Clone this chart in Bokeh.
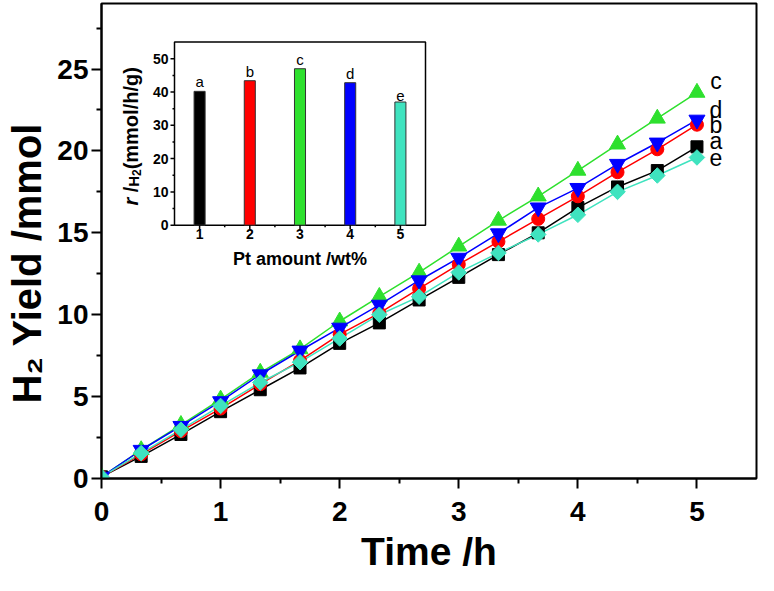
import math
from bokeh.plotting import figure
from bokeh.models import Range1d, FixedTicker, Label, ColumnDataSource
from bokeh.core.properties import value
from bokeh.embed import file_html
from bokeh.resources import INLINE

# ---------------- data ----------------
times = [0, 0.333, 0.667, 1.0, 1.333, 1.667, 2.0, 2.333, 2.667, 3.0, 3.333, 3.667, 4.0, 4.333, 4.667, 5.0]
yield_a = [0.1, 1.35, 2.69, 4.08, 5.42, 6.75, 8.25, 9.5, 10.9, 12.28, 13.67, 15.0, 16.54, 17.8, 18.8, 20.25]
yield_b = [0.1, 1.48, 2.89, 4.27, 5.76, 7.2, 8.8, 10.1, 11.59, 13.07, 14.46, 15.85, 17.23, 18.7, 20.1, 21.6]
yield_c = [0.1, 1.74, 3.28, 4.83, 6.47, 7.9, 9.6, 11.1, 12.58, 14.17, 15.75, 17.23, 18.8, 20.4, 21.98, 23.56]
yield_d = [0.1, 1.74, 3.2, 4.71, 6.35, 7.8, 9.2, 10.6, 12.09, 13.47, 14.96, 16.54, 17.73, 19.2, 20.5, 21.9]
yield_e = [0.1, 1.55, 2.98, 4.43, 5.86, 7.1, 8.55, 10.0, 11.1, 12.58, 13.77, 14.9, 16.1, 17.5, 18.5, 19.6]
series_names = ["a", "b", "c", "d", "e"]

pt_amount = [1, 2, 3, 4, 5]
h2_rate = [40.2, 43.4, 47.0, 42.8, 37.0]

x_ticks = [0, 1, 2, 3, 4, 5]
x_minor = [0.5, 1.5, 2.5, 3.5, 4.5]
y_ticks = [0, 5, 10, 15, 20, 25]
y_minor = [2.5, 7.5, 12.5, 17.5, 22.5, 27.5]
inset_x_minor = [1.5, 2.5, 3.5, 4.5]
inset_y_ticks = [0, 10, 20, 30, 40, 50]
inset_y_minor = [5, 15, 25, 35, 45]

x_title = "Time /h"
y_title = "H\u2082 Yield /mmol"

# ---------------- styles / layout ----------------
colors = ["#000000", "#FF0000", "#2EE02E", "#0000FF", "#3FE3BF"]
markers = ["square", "circle", "triangle", "inverted_triangle", "square"]
msizes = [12, 13, 16, 16, 11]
mangles = [0, 0, 0, 0, math.pi / 4]
end_label_dy_px = [6, 0, 12, 10, 0]   # lift of end labels above last marker (px)
END_LABEL_DX_PX = 19

FONT = "'Liberation Sans', Arial, sans-serif"

W, H = 758, 575
FL, FR, FT, FB = 101, 756, 3, 483          # frame in picture px
X_MIN, X_MAX, Y_MIN, Y_MAX = 0, 5.5, 0, 29
IL, IR, IT, IB = 174, 425, 42, 227          # inset frame in picture px
IX0, IX1, IY0, IY1 = 0.5, 5.5, 0, 55

def mx(px):
    return X_MIN + (px - FL) * (X_MAX - X_MIN) / (FR - FL)

def my(py):
    return Y_MIN + (FB - py) * (Y_MAX - Y_MIN) / (FB - FT)

ixs = (IX1 - IX0) / (IR - IL)
iys = (IY1 - IY0) / (IB - IT)
ix_range = Range1d(IX0 - (IL - FL) * ixs, IX1 + (FR - IR) * ixs)
iy_range = Range1d(IY0 - (FB - IB) * iys, IY1 + (IT - FT) * iys)

p = figure(width=W, height=H, output_backend="svg", toolbar_location=None,
           x_range=Range1d(X_MIN, X_MAX), y_range=Range1d(Y_MIN, Y_MAX),
           min_border_left=FL, min_border_right=W - FR,
           min_border_top=FT, min_border_bottom=H - FB)
p.extra_x_ranges = {"ix": ix_range}
p.extra_y_ranges = {"iy": iy_range}
p.grid.visible = False
p.outline_line_color = "black"
p.outline_line_width = 2
p.background_fill_color = "white"
p.border_fill_color = "white"

p.xaxis.ticker = FixedTicker(ticks=x_ticks, minor_ticks=x_minor)
p.yaxis.ticker = FixedTicker(ticks=y_ticks, minor_ticks=y_minor)
for ax in p.axis:
    ax.axis_line_width = 2
    ax.axis_line_color = "black"
    ax.major_tick_line_width = 2
    ax.minor_tick_line_width = 2
    ax.major_tick_in = 0
    ax.major_tick_out = 10
    ax.minor_tick_in = 0
    ax.minor_tick_out = 5
    ax.major_label_text_font = FONT
    ax.major_label_text_font_style = "bold"
    ax.major_label_text_font_size = "28px"
    ax.major_label_text_color = "black"
    ax.axis_label_text_font = FONT
    ax.axis_label_text_font_style = "bold"
    ax.axis_label_text_color = "black"
p.xaxis.major_label_standoff = 13
p.yaxis.major_label_standoff = 3
p.xaxis.axis_label = x_title
p.xaxis.axis_label_text_font_size = "39px"
p.xaxis.axis_label_standoff = 6
p.yaxis.axis_label = y_title + "\u00a0\u00a0\u00a0\u00a0"
p.yaxis.axis_label_text_font_size = "40px"
p.yaxis.axis_label_standoff = 5

# ---------------- main series ----------------
all_series = [yield_a, yield_b, yield_c, yield_d, yield_e]
for ys, c in zip(all_series, colors):
    p.line(times, ys, line_color=c, line_width=1.5)
for ys, c, m, s, a in zip(all_series, colors, markers, msizes, mangles):
    p.scatter(times, ys, marker=m, size=s, angle=a, fill_color=c, line_color=c)

px_per_y = (FB - FT) / (Y_MAX - Y_MIN)
px_per_x = (FR - FL) / (X_MAX - X_MIN)
end_src = ColumnDataSource(dict(
    x=[times[-1] + END_LABEL_DX_PX / px_per_x] * len(all_series),
    y=[ys[-1] + d / px_per_y for ys, d in zip(all_series, end_label_dy_px)],
    t=series_names))
p.text(x="x", y="y", text="t", source=end_src, text_align="center",
       text_baseline="middle", text_font=value(FONT), text_font_size="23px",
       text_color="black")

# ---------------- inset (bar chart) ----------------
R = dict(x_range_name="ix", y_range_name="iy")
p.quad(left=IX0, right=IX1, bottom=IY0, top=IY1, fill_color="white",
       line_color="black", line_width=1.5, **R)
p.vbar(x=pt_amount, top=h2_rate, bottom=0, width=0.22, fill_color=colors,
       line_color="#333333", line_width=1, **R)
# ticks
p.ray(x=pt_amount, y=[IY0] * len(pt_amount), length=4, length_units="screen",
      angle=-math.pi / 2, line_color="black", line_width=1.5, **R)
p.ray(x=inset_x_minor, y=[IY0] * len(inset_x_minor), length=2, length_units="screen",
      angle=-math.pi / 2, line_color="black", line_width=1.5, **R)
p.ray(x=[IX0] * len(inset_y_ticks), y=inset_y_ticks, length=4, length_units="screen",
      angle=math.pi, line_color="black", line_width=1.5, **R)
p.ray(x=[IX0] * len(inset_y_minor), y=inset_y_minor, length=2, length_units="screen",
      angle=math.pi, line_color="black", line_width=1.5, **R)
# tick labels
p.text(x=pt_amount, y=[IY0] * len(pt_amount), text=[str(v) for v in pt_amount],
       y_offset=4, text_align="center", text_baseline="top",
       text_font=value(FONT), text_font_style="bold", text_font_size="14px", **R)
p.text(x=[IX0] * len(inset_y_ticks), y=inset_y_ticks, text=[str(v) for v in inset_y_ticks],
       x_offset=-6, text_align="right", text_baseline="middle",
       text_font=value(FONT), text_font_style="bold", text_font_size="14px", **R)
# letters on bars
p.text(x=pt_amount, y=h2_rate, text=series_names, y_offset=-1, text_align="center",
       text_baseline="bottom", text_font=value(FONT), text_font_size="15px", **R)
# inset x label
p.text(x=[(IX0 + IX1) / 2], y=[IY0], text=["Pt amount /wt%"], y_offset=24,
       text_align="center", text_baseline="top", text_font=value(FONT),
       text_font_style="bold", text_font_size="18px", **R)

# inset y label: r /H2(mmol/h/g) (rotated, in pieces)
def rot_piece(text, px, py, size, style="bold"):
    p.add_layout(Label(x=mx(px), y=my(py), text=text, angle=math.pi / 2,
                       text_align="left", text_baseline="alphabetic",
                       text_font=FONT, text_font_style=style,
                       text_font_size=f"{size}px", text_color="black"))

iy_base = 130
y0 = 207
fs = 20
rot_piece("r", iy_base, y0, fs, style="bold italic")
y0 -= (0.389 + 0.278) * fs
rot_piece("/", iy_base, y0, fs)
y0 -= 0.278 * fs
rot_piece("H", iy_base + 3, y0, 15)
y0 -= 0.722 * 15
rot_piece("2", iy_base + 6, y0, 12)
y0 -= 0.556 * 12
rot_piece("(mmol/h/g)", iy_base, y0, fs)

open("out.html", "w").write(file_html(p, INLINE))
